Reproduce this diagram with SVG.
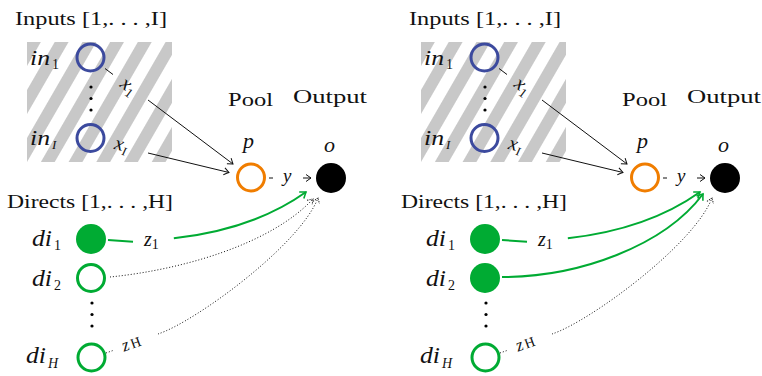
<svg xmlns="http://www.w3.org/2000/svg" width="762" height="376" viewBox="0 0 762 376">
<style>
.t{font-family:"Liberation Serif","Times New Roman",serif;fill:#111;}
.m{font-family:"Liberation Serif","Times New Roman",serif;font-style:italic;fill:#111;}
.sub{font-style:normal;}
.blk{fill:none;stroke:#111;stroke-width:1;}
.grn{fill:none;stroke:#00ab33;stroke-width:2;}
.dot{fill:none;stroke:#111;stroke-width:1;stroke-dasharray:1 2;}
.inn{fill:none;stroke:#3c4a9e;stroke-width:3;}
.pool{fill:none;stroke:#f07d00;stroke-width:3;}
.out{fill:#000;}
.dfill{fill:#00ab33;}
.dopen{fill:none;stroke:#00ab33;stroke-width:3;}
</style>
<defs>
<pattern id="hatch" patternUnits="userSpaceOnUse" width="24" height="24" patternTransform="translate(27,42) rotate(30)">
<rect x="0" y="0" width="12" height="24" fill="#c8c8c8"/>
</pattern>
<marker id="ab" viewBox="-7 -5 8 10" markerWidth="8" markerHeight="10" refX="0" refY="0" orient="auto" markerUnits="userSpaceOnUse" overflow="visible">
<path d="M-5,-3.5 Q-1.5,-1 0,0 Q-1.5,1 -5,3.5" fill="none" stroke="#111" stroke-width="1"/>
</marker>
<marker id="ag" viewBox="-7 -5 8 10" markerWidth="8" markerHeight="10" refX="0" refY="0" orient="auto" markerUnits="userSpaceOnUse" overflow="visible">
<path d="M-5.5,-4 Q-1.5,-1 0,0 Q-1.5,1 -5.5,4" fill="none" stroke="#00ab33" stroke-width="1.6"/>
</marker>
<marker id="ad" viewBox="-7 -5 8 10" markerWidth="8" markerHeight="10" refX="0" refY="0" orient="auto" markerUnits="userSpaceOnUse" overflow="visible">
<path d="M-5,-3.5 Q-1.5,-1 0,0 Q-1.5,1 -5,3.5" fill="none" stroke="#111" stroke-width="1" stroke-dasharray="1 1"/>
</marker>
</defs>
<rect x="0" y="0" width="762" height="376" fill="#fff"/>

<!-- LEFT PANEL -->
<g id="left-panel">
<text class="t" x="15" y="24.5" font-size="19" textLength="152" lengthAdjust="spacingAndGlyphs">Inputs [1,. . . ,I]</text>
<rect id="left-input-area" x="27" y="42" width="145" height="120" fill="url(#hatch)"/>
<text class="t" x="228" y="105.5" font-size="19" textLength="45" lengthAdjust="spacingAndGlyphs">Pool</text>
<text class="t" x="293" y="103" font-size="19" textLength="74" lengthAdjust="spacingAndGlyphs">Output</text>
<text class="t" x="7" y="208" font-size="19" textLength="166" lengthAdjust="spacingAndGlyphs">Directs [1,. . . ,H]</text>

<g id="left-connectors">
<line class="blk" x1="105" y1="68.5" x2="113" y2="74.5"/>
<line class="blk" x1="148" y1="100" x2="233" y2="164" marker-end="url(#ab)"/>
<line class="blk" x1="148" y1="153" x2="229" y2="172.5" marker-end="url(#ab)"/>
<line class="blk" x1="269" y1="178" x2="273" y2="178"/>
<line class="blk" x1="303" y1="178" x2="311" y2="178" marker-end="url(#ab)"/>
<line class="grn" x1="108" y1="240" x2="133" y2="241.7"/>
<path class="grn" d="M108,240 C170,244 250,232 306,192" stroke-dasharray="0 66 400" marker-end="url(#ag)"/>
<path class="dot" d="M110,277 C180,270 270,245 313,199" marker-end="url(#ad)"/>
<line class="dot" x1="106" y1="353" x2="113" y2="350.5"/>
<path class="dot" d="M158,334 C195,322 300,245 318,198" marker-end="url(#ad)"/>
<g transform="translate(127,87) rotate(37)"><text class="m" x="-7" y="4" font-size="20">x<tspan class="sub" font-size="13" dy="4">1</tspan></text></g>
<g transform="translate(123,148) rotate(14)"><text class="m" x="-9" y="3" font-size="20">x<tspan font-size="12" dy="4">I</tspan></text></g>
<text class="m" x="283" y="182" font-size="19">y</text>
<text class="m" x="144" y="246" font-size="20">z<tspan class="sub" font-size="14" dy="3">1</tspan></text>
<g transform="translate(134,344) rotate(-20)"><text class="m" x="-12" y="4" font-size="18">z<tspan class="sub" font-size="14" dx="2">H</tspan></text></g>
</g>

<g id="left-in1"><circle class="inn" cx="90.5" cy="57.5" r="13.5"/><text class="m" x="30" y="65" font-size="22" textLength="20" lengthAdjust="spacingAndGlyphs">in</text><text class="t" x="52" y="69" font-size="14">1</text></g>
<g id="left-in-dots"><circle cx="91" cy="87" r="1.6"/><circle cx="91" cy="98.5" r="1.6"/><circle cx="91" cy="110" r="1.6"/></g>
<g id="left-inI"><circle class="inn" cx="90.5" cy="138" r="13.5"/><text class="m" x="30" y="145" font-size="22" textLength="20" lengthAdjust="spacingAndGlyphs">in</text><text class="m" x="52" y="149" font-size="13">I</text></g>
<g id="left-pool"><circle class="pool" cx="251" cy="177.5" r="13.5"/><text class="m" x="243" y="148" font-size="22">p</text></g>
<g id="left-output"><circle class="out" cx="331" cy="178" r="15"/><text class="m" x="324" y="152" font-size="22">o</text></g>
<g id="left-di1"><circle class="dfill" cx="91" cy="239" r="15"/><text class="m" x="32" y="246" font-size="23" textLength="20" lengthAdjust="spacingAndGlyphs">di</text><text class="t" x="54" y="250" font-size="14">1</text></g>
<g id="left-di2"><circle class="dopen" cx="91" cy="278" r="13.5"/><text class="m" x="32" y="286" font-size="23" textLength="20" lengthAdjust="spacingAndGlyphs">di</text><text class="t" x="54" y="290" font-size="14">2</text></g>
<g id="left-di-dots"><circle cx="92" cy="303" r="1.6"/><circle cx="92" cy="314.5" r="1.6"/><circle cx="92" cy="326" r="1.6"/></g>
<g id="left-diH"><circle class="dopen" cx="91.5" cy="357.5" r="13.5"/><text class="m" x="26" y="363" font-size="23" textLength="20" lengthAdjust="spacingAndGlyphs">di</text><text class="m" x="48" y="368" font-size="14">H</text></g>
</g>

<!-- RIGHT PANEL -->
<g id="right-panel" transform="translate(394,0)">
<text class="t" x="15" y="24.5" font-size="19" textLength="152" lengthAdjust="spacingAndGlyphs">Inputs [1,. . . ,I]</text>
<rect id="right-input-area" x="27" y="42" width="145" height="120" fill="url(#hatch)"/>
<text class="t" x="228" y="105.5" font-size="19" textLength="45" lengthAdjust="spacingAndGlyphs">Pool</text>
<text class="t" x="293" y="103" font-size="19" textLength="74" lengthAdjust="spacingAndGlyphs">Output</text>
<text class="t" x="7" y="208" font-size="19" textLength="166" lengthAdjust="spacingAndGlyphs">Directs [1,. . . ,H]</text>

<g id="right-connectors">
<line class="blk" x1="105" y1="68.5" x2="113" y2="74.5"/>
<line class="blk" x1="148" y1="100" x2="233" y2="164" marker-end="url(#ab)"/>
<line class="blk" x1="148" y1="153" x2="229" y2="172.5" marker-end="url(#ab)"/>
<line class="blk" x1="269" y1="178" x2="273" y2="178"/>
<line class="blk" x1="303" y1="178" x2="311" y2="178" marker-end="url(#ab)"/>
<line class="grn" x1="108" y1="240" x2="133" y2="241.7"/>
<path class="grn" d="M108,240 C170,244 250,232 306,192" stroke-dasharray="0 66 400" marker-end="url(#ag)"/>
<path class="grn" d="M108,277 C185,277 270,246 309,194" marker-end="url(#ag)"/>
<line class="dot" x1="106" y1="353" x2="113" y2="350.5"/>
<path class="dot" d="M158,334 C195,322 300,245 318,198" marker-end="url(#ad)"/>
<g transform="translate(127,87) rotate(37)"><text class="m" x="-7" y="4" font-size="20">x<tspan class="sub" font-size="13" dy="4">1</tspan></text></g>
<g transform="translate(123,148) rotate(14)"><text class="m" x="-9" y="3" font-size="20">x<tspan font-size="12" dy="4">I</tspan></text></g>
<text class="m" x="283" y="182" font-size="19">y</text>
<text class="m" x="144" y="246" font-size="20">z<tspan class="sub" font-size="14" dy="3">1</tspan></text>
<g transform="translate(134,344) rotate(-20)"><text class="m" x="-12" y="4" font-size="18">z<tspan class="sub" font-size="14" dx="2">H</tspan></text></g>
</g>

<g id="right-in1"><circle class="inn" cx="90.5" cy="57.5" r="13.5"/><text class="m" x="30" y="65" font-size="22" textLength="20" lengthAdjust="spacingAndGlyphs">in</text><text class="t" x="52" y="69" font-size="14">1</text></g>
<g id="right-in-dots"><circle cx="91" cy="87" r="1.6"/><circle cx="91" cy="98.5" r="1.6"/><circle cx="91" cy="110" r="1.6"/></g>
<g id="right-inI"><circle class="inn" cx="90.5" cy="138" r="13.5"/><text class="m" x="30" y="145" font-size="22" textLength="20" lengthAdjust="spacingAndGlyphs">in</text><text class="m" x="52" y="149" font-size="13">I</text></g>
<g id="right-pool"><circle class="pool" cx="251" cy="177.5" r="13.5"/><text class="m" x="243" y="148" font-size="22">p</text></g>
<g id="right-output"><circle class="out" cx="331" cy="178" r="15"/><text class="m" x="324" y="152" font-size="22">o</text></g>
<g id="right-di1"><circle class="dfill" cx="91" cy="239" r="15"/><text class="m" x="32" y="246" font-size="23" textLength="20" lengthAdjust="spacingAndGlyphs">di</text><text class="t" x="54" y="250" font-size="14">1</text></g>
<g id="right-di2"><circle class="dfill" cx="91" cy="278" r="15"/><text class="m" x="32" y="286" font-size="23" textLength="20" lengthAdjust="spacingAndGlyphs">di</text><text class="t" x="54" y="290" font-size="14">2</text></g>
<g id="right-di-dots"><circle cx="92" cy="303" r="1.6"/><circle cx="92" cy="314.5" r="1.6"/><circle cx="92" cy="326" r="1.6"/></g>
<g id="right-diH"><circle class="dopen" cx="91.5" cy="357.5" r="13.5"/><text class="m" x="26" y="363" font-size="23" textLength="20" lengthAdjust="spacingAndGlyphs">di</text><text class="m" x="48" y="368" font-size="14">H</text></g>
</g>
</svg>
